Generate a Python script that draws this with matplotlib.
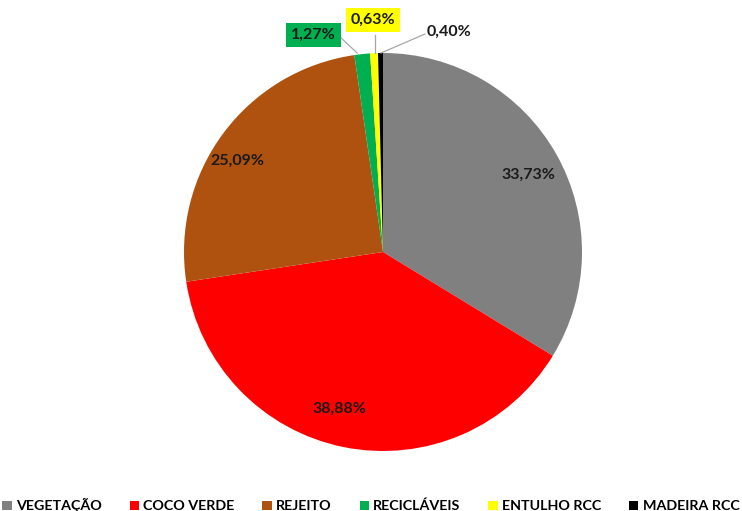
import matplotlib
matplotlib.use("Agg")
import matplotlib.pyplot as plt
from matplotlib.patches import Patch

categories = ["VEGETAÇÃO", "COCO VERDE", "REJEITO", "RECICLÁVEIS", "ENTULHO RCC", "MADEIRA RCC"]
values = [33.73, 38.88, 25.09, 1.27, 0.63, 0.40]
labels = ["33,73%", "38,88%", "25,09%", "1,27%", "0,63%", "0,40%"]
colors = ["#808080", "#FF0000", "#AF520F", "#00B050", "#FFFF00", "#000000"]

plt.rcParams['font.family'] = ['Lato', 'DejaVu Sans']

W, H = 742, 511
fig = plt.figure(figsize=(W / 100, H / 100), dpi=100)
cx, cy, r = 383, 511 - 252, 199
ax = fig.add_axes([(cx - r) / W, (cy - r) / H, 2 * r / W, 2 * r / H])
wedges, _ = ax.pie(values, colors=colors, startangle=90, counterclock=False, radius=1)
ax.set_xlim(-1, 1)
ax.set_ylim(-1, 1)
ax.set_aspect('auto')
ax.axis('off')

fs = 11.5
# label positions (axes data coords, radius=1)
inside_pos = [(0.73, 0.39), (-0.22, -0.79), (-0.73, 0.46)]
for (x, y), lab in zip(inside_pos, labels[:3]):
    ax.text(x, y, lab, ha='center', va='center', fontsize=fs, fontweight='bold', color='#1a1a1a')

# outside labels
out_pos = [(-0.35, 1.09), (-0.05, 1.165), (0.33, 1.105)]
boxes = [dict(boxstyle='square,pad=0.3', fc=colors[3], ec='none'),
         dict(boxstyle='square,pad=0.3', fc=colors[4], ec='none'),
         None]
line_start = [(-0.21, 1.075), (-0.04, 1.09), (0.21, 1.095)]
line_end = [(-0.13, 1.0), (-0.04, 1.0), (-0.01, 1.0)]
for (x, y), lab, bx, s, e in zip(out_pos, labels[3:], boxes, line_start, line_end):
    ax.plot([s[0], e[0]], [s[1], e[1]], color='#A6A6A6', lw=0.9, clip_on=False)
    ax.text(x, y, lab, ha='center', va='center', fontsize=fs, fontweight='bold',
            color='#1a1a1a', bbox=bx, clip_on=False, zorder=5)

handles = [Patch(facecolor=c, edgecolor='none') for c in colors]
fig.legend(handles, categories, loc='lower center', bbox_to_anchor=(0.5, -0.028), ncol=6,
           frameon=False, prop={'weight': 'bold', 'size': 10.3}, handlelength=0.65,
           handleheight=0.65, handletextpad=0.3, columnspacing=1.95)

fig.savefig("out.png", dpi=100)
